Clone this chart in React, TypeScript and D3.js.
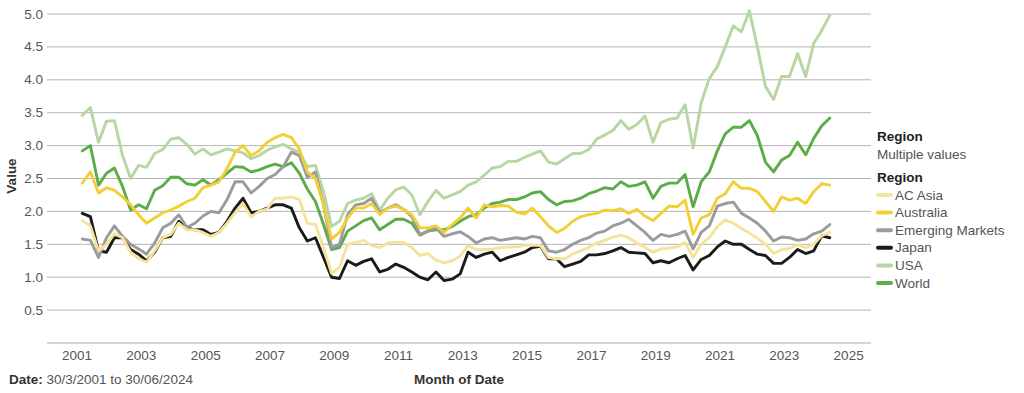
import React from "react";
import * as d3 from "d3";

const months: string[] = [
  "2001-03","2001-06","2001-09","2001-12","2002-03","2002-06","2002-09","2002-12",
  "2003-03","2003-06","2003-09","2003-12","2004-03","2004-06","2004-09","2004-12",
  "2005-03","2005-06","2005-09","2005-12","2006-03","2006-06","2006-09","2006-12",
  "2007-03","2007-06","2007-09","2007-12","2008-03","2008-06","2008-09","2008-12",
  "2009-03","2009-06","2009-09","2009-12","2010-03","2010-06","2010-09","2010-12",
  "2011-03","2011-06","2011-09","2011-12","2012-03","2012-06","2012-09","2012-12",
  "2013-03","2013-06","2013-09","2013-12","2014-03","2014-06","2014-09","2014-12",
  "2015-03","2015-06","2015-09","2015-12","2016-03","2016-06","2016-09","2016-12",
  "2017-03","2017-06","2017-09","2017-12","2018-03","2018-06","2018-09","2018-12",
  "2019-03","2019-06","2019-09","2019-12","2020-03","2020-06","2020-09","2020-12",
  "2021-03","2021-06","2021-09","2021-12","2022-03","2022-06","2022-09","2022-12",
  "2023-03","2023-06","2023-09","2023-12","2024-03","2024-06",
];

const usa: number[] = [
  3.46, 3.58, 3.05, 3.37, 3.38, 2.85, 2.5, 2.7,
  2.67, 2.88, 2.94, 3.1, 3.12, 3.02, 2.87, 2.95,
  2.86, 2.9, 2.95, 2.92, 2.89, 2.8, 2.85, 2.93,
  2.98, 3.02, 2.95, 2.9, 2.68, 2.7, 2.3, 1.77,
  1.85, 2.12, 2.17, 2.2, 2.27, 2.02, 2.2, 2.33,
  2.37, 2.25, 1.95, 2.15, 2.32, 2.2, 2.25, 2.3,
  2.4, 2.45, 2.55, 2.66, 2.68, 2.76, 2.76, 2.82,
  2.87, 2.92, 2.75, 2.72, 2.8, 2.88, 2.88, 2.94,
  3.1, 3.16, 3.23, 3.38, 3.25, 3.32, 3.45, 3.05,
  3.35, 3.4, 3.42, 3.62, 2.96, 3.65, 4.02, 4.2,
  4.5, 4.82, 4.73, 5.05, 4.5, 3.9, 3.7, 4.05,
  4.05, 4.4, 4.05, 4.55, 4.75, 4.98,
];

const world: number[] = [
  2.92, 3.0, 2.4, 2.58, 2.66, 2.38, 2.02, 2.1,
  2.04, 2.32, 2.39, 2.52, 2.52, 2.42, 2.4, 2.48,
  2.4, 2.48, 2.58, 2.68, 2.67, 2.6, 2.63, 2.68,
  2.72, 2.68, 2.74, 2.58, 2.34, 2.15, 1.8, 1.42,
  1.45, 1.7, 1.78, 1.86, 1.9, 1.72, 1.8, 1.88,
  1.88, 1.82, 1.64, 1.7, 1.72, 1.72, 1.77, 1.85,
  1.92, 1.95, 2.05, 2.12, 2.14, 2.18, 2.18, 2.22,
  2.28, 2.3, 2.18, 2.1, 2.15, 2.16, 2.2, 2.27,
  2.31, 2.36, 2.34, 2.45, 2.38, 2.4, 2.45, 2.2,
  2.38, 2.43, 2.43, 2.56, 2.07, 2.45, 2.6, 2.92,
  3.18, 3.28, 3.28, 3.38, 3.15, 2.75, 2.6, 2.78,
  2.85, 3.05, 2.86, 3.11, 3.3, 3.42,
];

const australia: number[] = [
  2.43, 2.6, 2.28, 2.36, 2.32, 2.22, 2.1, 1.95,
  1.82, 1.9, 1.98, 2.02, 2.08, 2.15, 2.2, 2.36,
  2.4, 2.45, 2.65, 2.9, 3.0, 2.85, 2.92, 3.05,
  3.12, 3.17, 3.12, 2.95, 2.6, 2.5, 2.1, 1.58,
  1.68, 1.9, 2.05, 2.05, 2.12, 1.95, 2.05, 2.08,
  2.03, 1.95, 1.75, 1.75, 1.78, 1.68, 1.8, 1.9,
  2.05, 1.9, 2.1, 2.07, 2.09, 2.08, 1.99, 1.96,
  2.05, 1.92, 1.78, 1.68, 1.74, 1.85, 1.92, 1.95,
  1.97, 2.02, 2.01, 2.04, 1.97, 2.03, 1.93, 1.86,
  1.97, 2.08, 2.07, 2.17, 1.65, 1.9, 1.95, 2.2,
  2.27, 2.45, 2.35, 2.35, 2.3, 2.15, 2.0, 2.22,
  2.17, 2.2, 2.12, 2.3, 2.42, 2.4,
];

const emerging: number[] = [
  1.58, 1.56, 1.3, 1.6, 1.78, 1.62, 1.5, 1.43,
  1.35, 1.52, 1.75, 1.82, 1.95, 1.76, 1.82, 1.93,
  2.0, 1.98, 2.18, 2.45, 2.45, 2.28, 2.38, 2.5,
  2.56, 2.68, 2.9, 2.85, 2.52, 2.6, 2.1, 1.45,
  1.5, 1.95, 2.1, 2.12, 2.2, 1.98, 2.05, 2.1,
  2.03, 1.92, 1.65, 1.7, 1.75, 1.62, 1.66, 1.69,
  1.62, 1.52, 1.58, 1.6, 1.56, 1.58, 1.6, 1.58,
  1.62, 1.6, 1.4, 1.38, 1.42, 1.5, 1.56, 1.6,
  1.67, 1.7, 1.78, 1.82, 1.88, 1.78, 1.68, 1.56,
  1.65, 1.62, 1.65, 1.7, 1.43, 1.68, 1.78, 2.08,
  2.12, 2.14, 1.97, 1.9, 1.82, 1.7, 1.55, 1.61,
  1.6, 1.56, 1.58, 1.66, 1.7, 1.8,
];

const japan: number[] = [
  1.97, 1.92, 1.4, 1.38, 1.6, 1.6, 1.42, 1.35,
  1.25, 1.38, 1.6, 1.62, 1.85, 1.75, 1.72, 1.72,
  1.65, 1.68, 1.85, 2.05, 2.2, 1.98, 2.0, 2.05,
  2.1, 2.1, 2.05, 1.75, 1.55, 1.6, 1.3, 1.0,
  0.98, 1.25, 1.18, 1.24, 1.28, 1.08, 1.12, 1.2,
  1.15, 1.08, 1.0, 0.96, 1.08, 0.95, 0.97, 1.05,
  1.38, 1.3, 1.35, 1.38, 1.25, 1.3, 1.34, 1.38,
  1.45, 1.47, 1.28, 1.28, 1.16, 1.2, 1.24, 1.34,
  1.34, 1.36, 1.4, 1.45, 1.38, 1.37, 1.36, 1.22,
  1.25, 1.22, 1.28, 1.33, 1.11, 1.27, 1.33, 1.46,
  1.55, 1.5, 1.5, 1.42, 1.35, 1.33, 1.21, 1.21,
  1.3, 1.42, 1.36, 1.4, 1.63, 1.6,
];

const acAsia: number[] = [
  1.86, 1.78, 1.4, 1.5, 1.66, 1.6, 1.38, 1.28,
  1.23, 1.4, 1.6, 1.65, 1.82, 1.72, 1.72, 1.68,
  1.62, 1.68, 1.82, 1.98, 2.12, 1.92, 2.0, 2.04,
  2.2, 2.2, 2.22, 2.18, 1.82, 1.8, 1.45, 1.06,
  1.15, 1.5, 1.53, 1.56, 1.48, 1.45, 1.52, 1.53,
  1.53, 1.45, 1.33, 1.36, 1.26, 1.22, 1.25, 1.32,
  1.48, 1.42, 1.42, 1.43, 1.45, 1.46, 1.46, 1.48,
  1.49, 1.48, 1.3, 1.28, 1.28, 1.35, 1.4, 1.45,
  1.52, 1.56, 1.61, 1.64, 1.6, 1.52, 1.45, 1.38,
  1.43, 1.44, 1.46, 1.53, 1.3, 1.5, 1.6, 1.77,
  1.87, 1.82, 1.74, 1.67, 1.59, 1.5, 1.36, 1.42,
  1.44, 1.49, 1.45, 1.5, 1.63, 1.68,
];

const regionNames: string[] = ["AC Asia", "Australia", "Emerging Markets", "Japan", "USA", "World"];
const regionColors: string[] = ["#f6e39b", "#f3cf36", "#9b9b9b", "#1b1b1b", "#b6d7a3", "#5bad4a"];
const regionValues: number[][] = [acAsia, australia, emerging, japan, usa, world];

const yTicks: number[] = [0.5, 1.0, 1.5, 2.0, 2.5, 3.0, 3.5, 4.0, 4.5, 5.0];
const xTickYears: number[] = [2001, 2003, 2005, 2007, 2009, 2011, 2013, 2015, 2017, 2019, 2021, 2023, 2025];

const FONT = "'Liberation Sans', Arial, Helvetica, sans-serif";

export default function App() {
  const width = 1024;
  const height = 393;
  const parse = d3.timeParse("%Y-%m");
  const dates = months.map((m) => parse(m) as Date);

  const x = d3
    .scaleTime()
    .domain([new Date(2000, 0, 25), new Date(2025, 8, 12)])
    .range([47, 871]);
  const y = d3.scaleLinear().domain([0, 5]).range([343, 14]);

  const line = d3
    .line<[Date, number]>()
    .x((d) => x(d[0]))
    .y((d) => y(d[1]))
    .curve(d3.curveLinear);

  const drawOrder = [5, 4, 3, 2, 1, 0];

  return (
    <svg
      width={width}
      height={height}
      style={{ position: "absolute", left: 0, top: 0, fontFamily: FONT }}
    >
      <rect x={0} y={0} width={width} height={height} fill="#ffffff" />
      {yTicks.map((t) => (
        <g key={t}>
          <line x1={47} x2={871} y1={y(t)} y2={y(t)} stroke="#b4b4b4" strokeWidth={1} />
          <text
            x={43}
            y={y(t)}
            textAnchor="end"
            dominantBaseline="central"
            fontSize={13.5}
            fill="#555"
          >
            {t.toFixed(1)}
          </text>
        </g>
      ))}
      <line x1={47} x2={871} y1={y(0)} y2={y(0)} stroke="#a8a8a8" strokeWidth={1} />
      {xTickYears.map((yr) => (
        <text
          key={yr}
          x={x(new Date(yr, 0, 1))}
          y={355}
          textAnchor="middle"
          dominantBaseline="central"
          fontSize={13.5}
          fill="#555"
        >
          {yr}
        </text>
      ))}

      {drawOrder.map((i) => (
        <path
          key={regionNames[i]}
          d={line(dates.map((d, j) => [d, regionValues[i][j]] as [Date, number])) || ""}
          fill="none"
          stroke={regionColors[i]}
          strokeWidth={2.9}
          strokeLinejoin="round"
          strokeLinecap="round"
        />
      ))}

      <text
        transform="translate(11,176) rotate(-90)"
        textAnchor="middle"
        dominantBaseline="central"
        fontSize={13.5}
        fontWeight="bold"
        fill="#333"
      >
        Value
      </text>

      <text x={9} y={379} dominantBaseline="central" fontSize={13.5} fill="#555">
        <tspan fontWeight="bold" fill="#333">Date:</tspan> 30/3/2001 to 30/06/2024
      </text>
      <text
        x={459}
        y={379}
        textAnchor="middle"
        dominantBaseline="central"
        fontSize={13.5}
        fontWeight="bold"
        fill="#333"
      >
        Month of Date
      </text>

      <text x={877} y={136} dominantBaseline="central" fontSize={13.5} fontWeight="bold" fill="#222">
        Region
      </text>
      <text x={877} y={154} dominantBaseline="central" fontSize={13.5} fill="#555">
        Multiple values
      </text>
      <text x={877} y={177} dominantBaseline="central" fontSize={13.5} fontWeight="bold" fill="#222">
        Region
      </text>
      {regionNames.map((name, i) => {
        const cy = 195 + i * 17.6;
        return (
          <g key={name}>
            <line
              x1={878}
              x2={891}
              y1={cy}
              y2={cy}
              stroke={regionColors[i]}
              strokeWidth={4}
              strokeLinecap="round"
            />
            <text x={895} y={cy} dominantBaseline="central" fontSize={13.5} fill="#555">
              {name}
            </text>
          </g>
        );
      })}
    </svg>
  );
}
